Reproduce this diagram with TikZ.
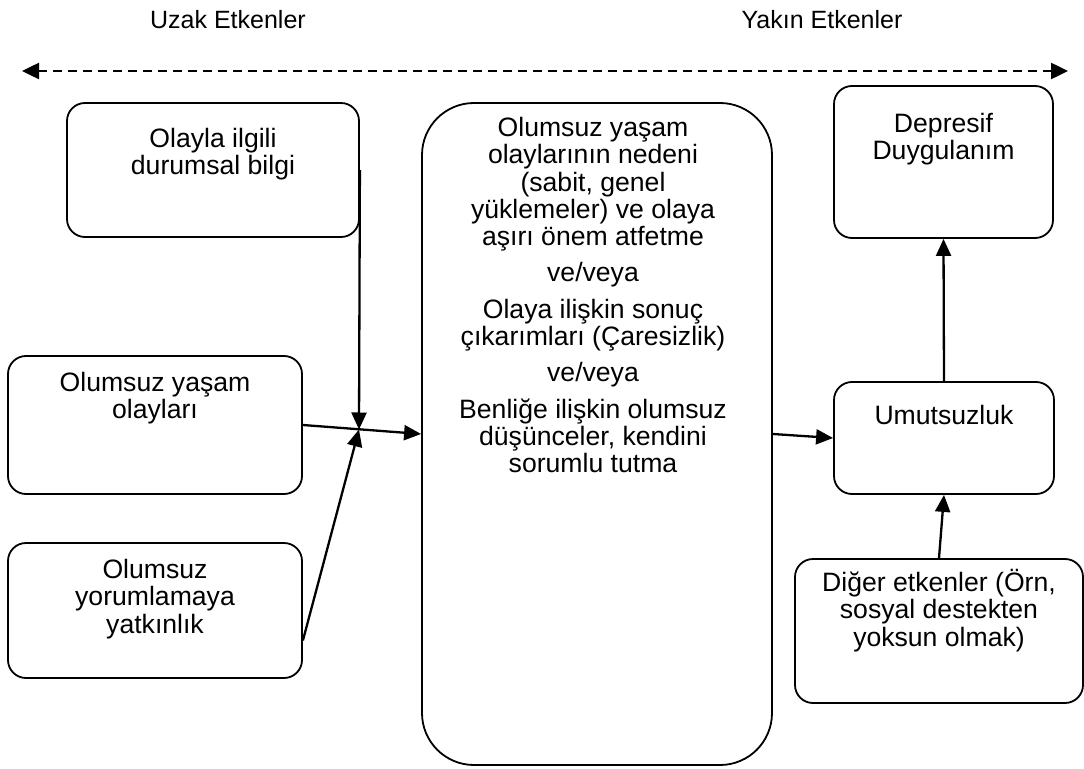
\documentclass[tikz,border=0pt]{standalone}
\usepackage{fontspec}
\setmainfont{Liberation Sans}
\usetikzlibrary{arrows.meta,calc}
\begin{document}
\begin{tikzpicture}[x=1bp,y=-1bp,
  box/.style={draw, line width=1.8bp, rounded corners=18bp, inner sep=0pt},
  txt/.style={align=center, inner sep=0pt, anchor=north,
    font=\fontsize{26.6bp}{27.3bp}\selectfont},
  lbl/.style={inner sep=0pt, font=\fontsize{25bp}{27bp}\selectfont},
  arr/.style={line width=2.3bp, -{Triangle[length=17bp,width=15bp]}},
  dasharr/.style={line width=2.5bp, dash pattern=on 9bp off 6bp,
    {Triangle[length=17bp,width=16bp]}-{Triangle[length=17bp,width=16bp]}},
]
\useasboundingbox (0,0) rectangle (1084,769);

% time axis: distal vs. proximal factors
\node[lbl] (lfar) at (228,20) {Uzak Etkenler};
\node[lbl] (lnear) at (822,20) {Yakın Etkenler};
\coordinate (dl) at (22,71);
\coordinate (dr) at (1068,71);
\draw[dasharr] (dl) -- (dr);

% left column boxes
\node[box, minimum width=292bp, minimum height=134bp] (b1) at (213,170) {};
\node[txt] (t1) at (213,128) {Olayla ilgili\\durumsal bilgi};

\node[box, minimum width=294bp, minimum height=138bp] (b2) at (155,425) {};
\node[txt] (t2) at (155,372) {Olumsuz yaşam\\olayları};

\node[box, minimum width=294bp, minimum height=135bp] (b3) at (155,610.5) {};
\node[txt] (t3) at (155,559) {Olumsuz\\yorumlamaya\\yatkınlık};

% central box
\node[box, rounded corners=52bp, minimum width=350bp, minimum height=662bp] (c) at (597,434) {};
\node[txt] (tc) at (593,117) {Olumsuz yaşam\\olaylarının nedeni\\(sabit, genel\\yüklemeler) ve olaya\\aşırı önem atfetme\\[9bp]
  ve/veya\\[9bp]
  Olaya ilişkin sonuç\\çıkarımları (Çaresizlik)\\[9bp]
  ve/veya\\[9bp]
  Benliğe ilişkin olumsuz\\düşünceler, kendini\\sorumlu tutma};

% right column boxes
\node[box, minimum width=219bp, minimum height=152bp] (d) at (943.5,162) {};
\node[txt] (td) at (943.5,113) {Depresif\\Duygulanım};

\node[box, minimum width=220bp, minimum height=112bp] (u) at (944,438) {};
\node[txt] (tu) at (944,405) {Umutsuzluk};

\node[box, minimum width=288bp, minimum height=144bp] (o) at (939,631) {};
\node[txt] (to) at (939,569) {Diğer etkenler (Örn,\\sosyal destekten\\yoksun olmak)};

% connectors
\coordinate (j) at (359,429.5);
\coordinate (b3out) at ($(b3.east)+(0,30)$);
\draw[arr] (b1.east) -- (j);
\draw[arr] (b3out) -- (j);
\draw[arr] (b2.east) -- (c.west);
\draw[arr] (c.east) -- (u.west);
\draw[arr] (u.north) -- (d.south);
\draw[arr] (o.north) -- (u.south);
\end{tikzpicture}
\end{document}
